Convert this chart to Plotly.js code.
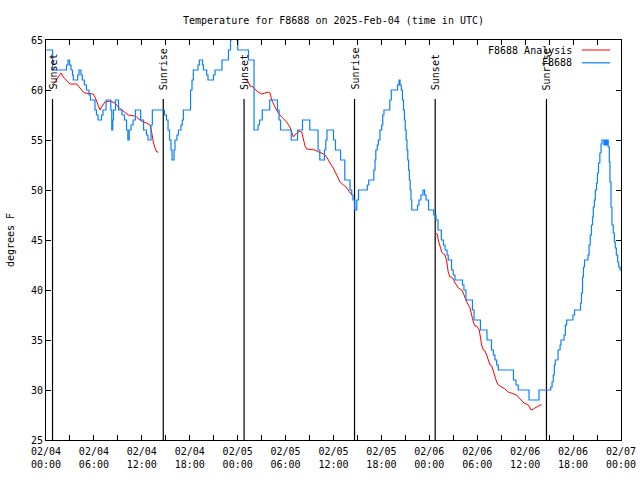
<!DOCTYPE html>
<html>
<head>
<meta charset="utf-8">
<script src="https://cdn.plot.ly/plotly-3.0.1.min.js"></script>
<style>html,body{margin:0;padding:0;background:#fff;}#chart{width:640px;height:480px;}</style>
</head>
<body>
<div id="chart"></div>
<script>
// Observed station readings (F8688), time in UTC
const obsTimes = [
'2025-02-04 00:00','2025-02-04 00:50','2025-02-04 02:34','2025-02-04 02:45','2025-02-04 02:57','2025-02-04 03:08','2025-02-04 03:19','2025-02-04 03:25','2025-02-04 03:58','2025-02-04 04:08',
'2025-02-04 04:23','2025-02-04 04:33','2025-02-04 04:48','2025-02-04 05:04','2025-02-04 05:23','2025-02-04 05:34','2025-02-04 06:08','2025-02-04 06:19','2025-02-04 06:31','2025-02-04 06:57',
'2025-02-04 07:08','2025-02-04 07:31','2025-02-04 08:07','2025-02-04 08:14','2025-02-04 08:21','2025-02-04 08:27','2025-02-04 08:42','2025-02-04 09:05','2025-02-04 09:31','2025-02-04 09:50',
'2025-02-04 10:05','2025-02-04 10:15','2025-02-04 10:25','2025-02-04 10:39','2025-02-04 10:54','2025-02-04 11:12','2025-02-04 11:51','2025-02-04 12:13','2025-02-04 12:35','2025-02-04 12:46',
'2025-02-04 13:09','2025-02-04 13:19','2025-02-04 14:50','2025-02-04 15:05','2025-02-04 15:17','2025-02-04 15:28','2025-02-04 15:39','2025-02-04 15:47','2025-02-04 16:02','2025-02-04 16:09',
'2025-02-04 16:24','2025-02-04 16:35','2025-02-04 16:54','2025-02-04 17:04','2025-02-04 17:12','2025-02-04 18:06','2025-02-04 18:17','2025-02-04 18:27','2025-02-04 19:02','2025-02-04 19:12',
'2025-02-04 19:36','2025-02-04 19:43','2025-02-04 20:07','2025-02-04 20:17','2025-02-04 20:58','2025-02-04 21:10','2025-02-04 22:02','2025-02-04 22:51','2025-02-04 23:06','2025-02-04 23:14',
'2025-02-04 23:51','2025-02-05 00:01','2025-02-05 01:21','2025-02-05 02:03','2025-02-05 02:33','2025-02-05 02:44','2025-02-05 03:05','2025-02-05 04:01','2025-02-05 04:59','2025-02-05 05:11',
'2025-02-05 05:22','2025-02-05 06:42','2025-02-05 07:30','2025-02-05 08:07','2025-02-05 09:02','2025-02-05 10:04','2025-02-05 10:17','2025-02-05 10:52','2025-02-05 11:02','2025-02-05 11:11',
'2025-02-05 12:00','2025-02-05 12:15','2025-02-05 12:53','2025-02-05 13:25','2025-02-05 14:04','2025-02-05 14:17','2025-02-05 14:26','2025-02-05 14:40','2025-02-05 14:55','2025-02-05 15:08',
'2025-02-05 16:14','2025-02-05 16:25','2025-02-05 17:03','2025-02-05 17:12','2025-02-05 17:18','2025-02-05 17:29','2025-02-05 17:37','2025-02-05 17:49','2025-02-05 18:02','2025-02-05 18:10',
'2025-02-05 18:19','2025-02-05 19:03','2025-02-05 19:14','2025-02-05 20:01','2025-02-05 20:12','2025-02-05 20:20','2025-02-05 20:29','2025-02-05 20:38','2025-02-05 20:46','2025-02-05 20:53',
'2025-02-05 20:59','2025-02-05 21:06','2025-02-05 21:12','2025-02-05 21:18','2025-02-05 21:24','2025-02-05 21:30','2025-02-05 21:36','2025-02-05 21:42','2025-02-05 21:48','2025-02-05 22:31',
'2025-02-05 22:42','2025-02-05 22:57','2025-02-05 23:12','2025-02-05 23:24','2025-02-05 23:35','2025-02-05 23:54','2025-02-06 00:33','2025-02-06 00:50','2025-02-06 01:05','2025-02-06 01:30',
'2025-02-06 01:46','2025-02-06 01:58','2025-02-06 02:13','2025-02-06 02:22','2025-02-06 02:47','2025-02-06 03:00','2025-02-06 03:13','2025-02-06 04:09','2025-02-06 04:20','2025-02-06 04:35',
'2025-02-06 05:24','2025-02-06 05:36','2025-02-06 06:24','2025-02-06 07:13','2025-02-06 07:47','2025-02-06 08:01','2025-02-06 08:13','2025-02-06 08:26','2025-02-06 08:38','2025-02-06 10:32',
'2025-02-06 10:51','2025-02-06 11:08','2025-02-06 12:29','2025-02-06 13:44','2025-02-06 15:12','2025-02-06 15:22','2025-02-06 15:31','2025-02-06 15:39','2025-02-06 15:46','2025-02-06 16:07',
'2025-02-06 16:22','2025-02-06 16:29','2025-02-06 16:52','2025-02-06 17:02','2025-02-06 17:12','2025-02-06 17:59','2025-02-06 18:11','2025-02-06 18:56','2025-02-06 19:03','2025-02-06 19:11',
'2025-02-06 19:18','2025-02-06 19:26','2025-02-06 19:52','2025-02-06 20:00','2025-02-06 20:09','2025-02-06 20:18','2025-02-06 20:26','2025-02-06 20:32','2025-02-06 20:40','2025-02-06 20:47',
'2025-02-06 20:56','2025-02-06 21:03','2025-02-06 21:11','2025-02-06 21:21','2025-02-06 21:30','2025-02-06 21:37','2025-02-06 21:52','2025-02-06 22:00','2025-02-06 22:07','2025-02-06 22:15',
'2025-02-06 22:24','2025-02-06 22:32','2025-02-06 22:37','2025-02-06 22:45','2025-02-06 22:52','2025-02-06 23:02','2025-02-06 23:10','2025-02-06 23:17','2025-02-06 23:25','2025-02-06 23:35',
'2025-02-06 23:43','2025-02-06 23:53','2025-02-07 00:00'
];
const obsTemps = [
64,62,62.5,63,62.5,62,61.5,61,61.5,62,
61.5,61,60.5,60,59.5,59,58,57.5,57,57.5,
58,59,58,56,57,58,59,58,57.5,57,
56,55,56,56.5,57,58,57,56,55.5,55,
56.5,58,57.5,57,56,55,54,53,54,55,
55.5,56,56.5,57,58,60,61,62,62.5,63,
62.5,62,61.5,61,61.5,62,63,64,65,66,
65,64,63,56,56.5,57,58,59,58,57,
56,55,56,57,56,54,53,54,55,56,
55,54,53,51,50,49.5,49,48,49,50,
50.5,51,52,53,54,54.5,55,56,56.5,57.5,
58,59,60,60.5,61,60.5,60,59,58,57,
56,55,54,53,52,51,50,49,48,48.5,
49,49.5,50,49.5,49,48,47.5,47,46,45,
44.5,44,43.5,43,42,41.5,41,40.5,40,39,
38,37,36,35,34,33.5,33,32.5,32,31,
30.5,30,29,30,30.3,30.8,31.5,32.5,33,34,
34.5,35,35.5,36.5,37,37.5,38,38.7,39.7,41.3,
42.3,43,43.5,44.5,45.5,46.5,47.3,48.3,49,50,
50.7,51.7,52.7,53.7,54.6,55,54.5,55,54.5,55,
54.3,52.8,50.8,48.3,46.5,45.7,44.8,44.2,43.5,42.8,
42.3,42,42
];

// Analysis series, one run per night
const anaTimes1 = ['2025-02-04 00:47','2025-02-04 01:08','2025-02-04 01:32','2025-02-04 01:53','2025-02-04 02:10','2025-02-04 02:23','2025-02-04 02:48','2025-02-04 03:00','2025-02-04 03:51','2025-02-04 04:15',
'2025-02-04 04:40','2025-02-04 04:53','2025-02-04 05:55','2025-02-04 06:08','2025-02-04 06:21','2025-02-04 06:33','2025-02-04 06:46','2025-02-04 06:58','2025-02-04 07:23','2025-02-04 08:01',
'2025-02-04 08:38','2025-02-04 09:03','2025-02-04 09:29','2025-02-04 09:54','2025-02-04 10:18','2025-02-04 11:03','2025-02-04 11:21','2025-02-04 11:46','2025-02-04 12:11','2025-02-04 12:37',
'2025-02-04 13:01','2025-02-04 13:14','2025-02-04 13:26','2025-02-04 13:39','2025-02-04 13:52','2025-02-04 14:04'];
const anaTemps1 = [60.5,60.8,61.3,61.7,61.3,61.1,60.7,60.6,60.6,60.2,
59.8,59.7,59.6,59.3,58.9,58.5,58,58.3,58.8,58.9,
58.7,58.3,58,57.7,57.5,57.4,57.3,57,56.8,56.7,
56.5,55.8,54.8,54.2,53.8,53.8];

const anaTimes2 = ['2025-02-05 00:51','2025-02-05 01:20','2025-02-05 01:33','2025-02-05 01:57','2025-02-05 02:23','2025-02-05 03:01','2025-02-05 03:25','2025-02-05 03:50','2025-02-05 04:03','2025-02-05 04:16',
'2025-02-05 04:40','2025-02-05 05:05','2025-02-05 05:31','2025-02-05 06:08','2025-02-05 06:33','2025-02-05 06:46','2025-02-05 06:58','2025-02-05 07:24','2025-02-05 07:48','2025-02-05 08:01',
'2025-02-05 08:13','2025-02-05 08:26','2025-02-05 08:39','2025-02-05 09:41','2025-02-05 10:06','2025-02-05 10:31','2025-02-05 10:56','2025-02-05 11:13','2025-02-05 11:34','2025-02-05 11:58',
'2025-02-05 12:24','2025-02-05 12:49','2025-02-05 13:14','2025-02-05 13:34','2025-02-05 13:51','2025-02-05 14:04','2025-02-05 14:19'];
const anaTemps2 = [61.2,60.8,60.4,60.3,59.9,59.6,59.7,59.8,59.7,59,
58.3,57.7,57.3,56.8,56.3,55.8,55.3,55.7,55.9,55.8,
55,54.4,54.1,54,53.8,53.7,53.5,53.2,52.7,52.2,
51.5,50.8,50.5,50.3,50,49.7,49.6];

const anaTimes3 = ['2025-02-06 00:43','2025-02-06 01:00','2025-02-06 01:07','2025-02-06 01:20','2025-02-06 01:33','2025-02-06 01:45','2025-02-06 01:58','2025-02-06 02:10','2025-02-06 02:22','2025-02-06 02:35',
'2025-02-06 02:48','2025-02-06 03:00','2025-02-06 03:13','2025-02-06 03:38','2025-02-06 04:03','2025-02-06 04:15','2025-02-06 04:41','2025-02-06 05:06','2025-02-06 05:18','2025-02-06 05:30',
'2025-02-06 05:43','2025-02-06 05:56','2025-02-06 06:15','2025-02-06 06:21','2025-02-06 06:33','2025-02-06 06:45','2025-02-06 06:58','2025-02-06 07:11','2025-02-06 07:23','2025-02-06 07:36',
'2025-02-06 07:49','2025-02-06 08:01','2025-02-06 08:13','2025-02-06 08:26','2025-02-06 08:38','2025-02-06 09:04','2025-02-06 09:28','2025-02-06 09:53','2025-02-06 10:19','2025-02-06 10:56',
'2025-02-06 11:08','2025-02-06 11:26','2025-02-06 11:51','2025-02-06 12:24','2025-02-06 12:44','2025-02-06 13:01','2025-02-06 13:27','2025-02-06 13:51','2025-02-06 14:04'];
const anaTemps3 = [45.7,45.6,45,44.3,43.8,43.6,43.5,42.9,41.8,41.3,
41.3,41.1,40.7,40.2,40,39.7,38.8,38.2,37.5,36.8,
36.4,36.4,36,35.3,34.5,34,33.9,33.5,33,32.5,
32.4,31.8,31.3,30.8,30.5,30.3,30.1,29.8,29.7,29.5,
29.3,29,28.7,28.5,28,28.1,28.3,28.5,28.5];

// Sun events
const sunTimes = ['2025-02-04 00:49','2025-02-04 14:41','2025-02-05 00:48','2025-02-05 14:38','2025-02-06 00:44','2025-02-06 14:40'];
const sunLabels = ['Sunset','Sunrise','Sunset','Sunrise','Sunset','Sunrise'];

const seriesNames = ['F8688 Analysis','F8688'];
const seriesColors = ['#ff0000','#0a80ff'];

const FONT = 'DejaVu Sans Mono, monospace';

const anaX = anaTimes1.concat([null], anaTimes2, [null], anaTimes3);
const anaY = anaTemps1.concat([null], anaTemps2, [null], anaTemps3);

const traces = [
  {x: anaX, y: anaY, type: 'scatter', mode: 'lines', name: seriesNames[0],
   line: {color: seriesColors[0], width: 1}, connectgaps: false, hoverinfo: 'skip'},
  {x: obsTimes, y: obsTemps, type: 'scatter', mode: 'lines', name: seriesNames[1],
   line: {color: seriesColors[1], width: 1.2, shape: 'hv'}, hoverinfo: 'skip'}
];

const shapes = sunTimes.map(t => ({
  type: 'line', xref: 'x', yref: 'y', x0: t, x1: t, y0: 25, y1: 59.1,
  line: {color: 'black', width: 1.2}, layer: 'below'
}));
const annotations = sunTimes.map((t, i) => ({
  x: t, y: 59.8, xref: 'x', yref: 'y', text: sunLabels[i], textangle: -90,
  xanchor: 'center', yanchor: 'bottom', showarrow: false,
  font: {family: FONT, size: 10, color: 'black'}
}));

// gnuplot-style key: text then line sample
const keyY = [0.975, 0.943];
seriesNames.forEach((n, i) => {
  annotations.push({x: 0.918, y: keyY[i], xref: 'paper', yref: 'paper', text: n,
    xanchor: 'right', yanchor: 'middle', showarrow: false,
    font: {family: FONT, size: 10, color: 'black'}});
  shapes.push({type: 'line', xref: 'paper', yref: 'paper', x0: 0.932, x1: 0.981,
    y0: keyY[i], y1: keyY[i], line: {color: seriesColors[i], width: i === 0 ? 1 : 1.2}});
});

const axisCommon = {
  showgrid: false, zeroline: false, showline: true, linecolor: 'black', linewidth: 1,
  mirror: 'ticks', ticks: 'inside', ticklen: 5, tickcolor: 'black', tickwidth: 1,
  tickfont: {family: FONT, size: 10, color: 'black'}
};

const layout = {
  width: 640, height: 480,
  margin: {l: 46, r: 19, t: 40, b: 40, pad: 0},
  paper_bgcolor: 'white', plot_bgcolor: 'white',
  showlegend: false,
  font: {family: FONT, size: 10, color: 'black'},
  title: {text: 'Temperature for F8688 on 2025-Feb-04 (time in UTC)',
          font: {family: FONT, size: 10, color: 'black'},
          x: 0.5, xref: 'paper', xanchor: 'center', y: 0.958, yref: 'container', yanchor: 'middle'},
  xaxis: Object.assign({}, axisCommon, {
    type: 'date', range: ['2025-02-04 00:00', '2025-02-07 00:00'],
    tick0: '2025-02-04 00:00', dtick: 21600000, tickformat: '%m/%d<br>%H:%M',
    ticklabelstandoff: 2,
    minor: {dtick: 10800000, ticks: 'inside', ticklen: 5, tickcolor: 'black', showgrid: false}
  }),
  yaxis: Object.assign({}, axisCommon, {
    range: [25, 65], tick0: 25, dtick: 5,
    title: {text: 'degrees F', font: {family: FONT, size: 10, color: 'black'}, standoff: 14}
  }),
  shapes: shapes,
  annotations: annotations
};

Plotly.newPlot('chart', traces, layout, {staticPlot: true, displayModeBar: false});
</script>
</body>
</html>
